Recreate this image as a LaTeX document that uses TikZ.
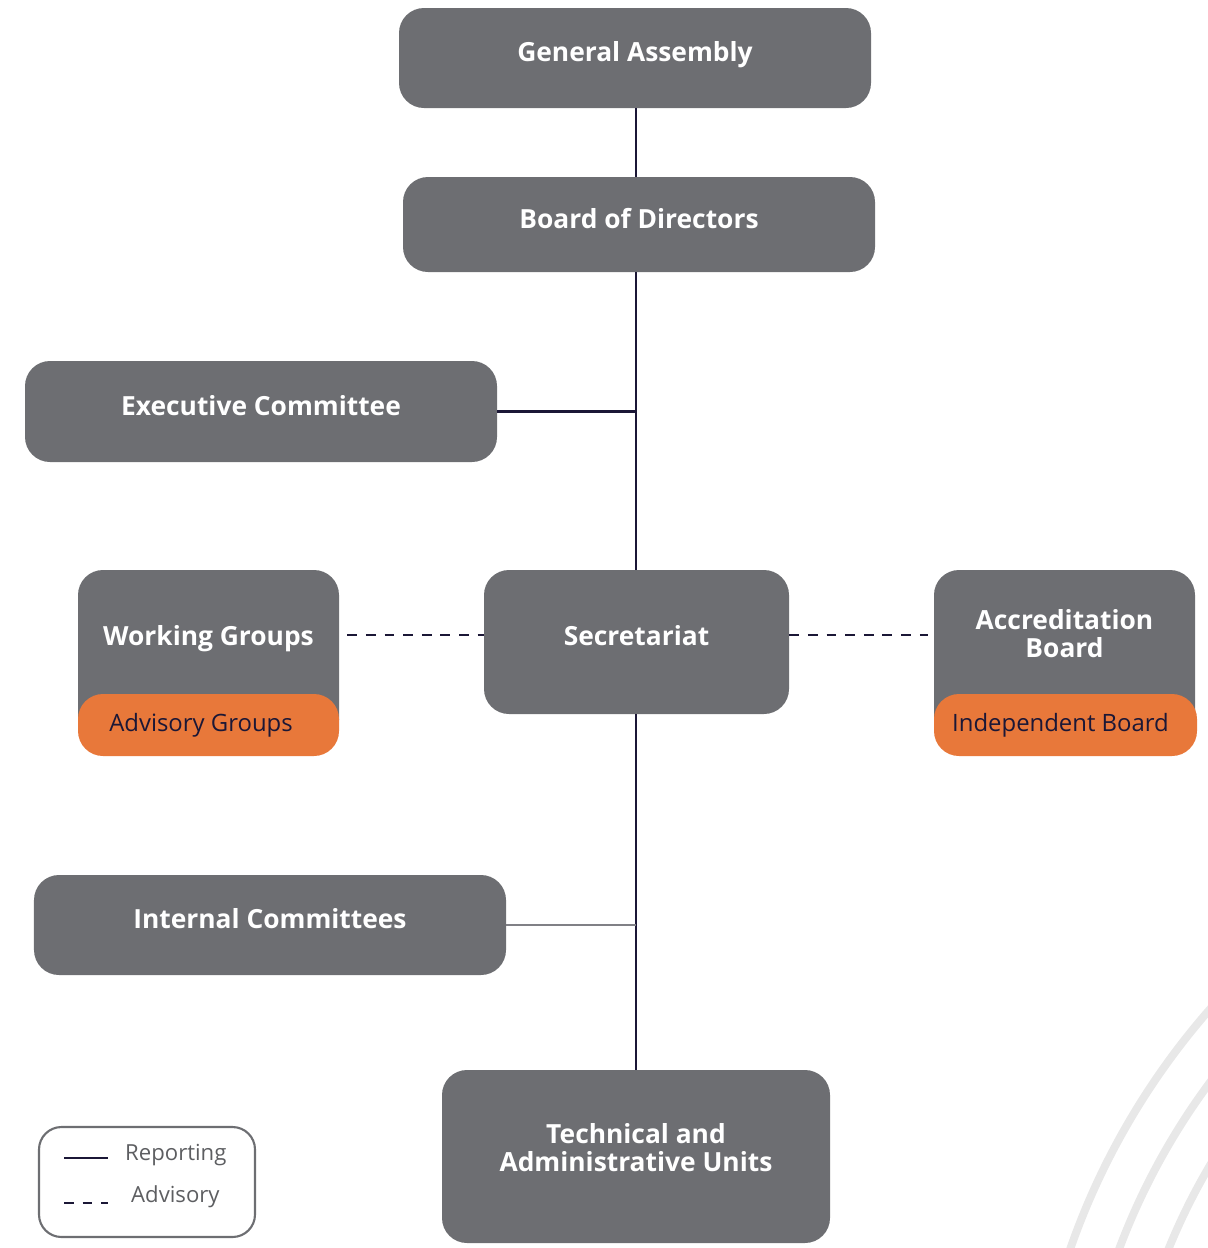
\documentclass[tikz,border=0pt]{standalone}
\usepackage{fontspec}
\setmainfont{Open Sans}
\usetikzlibrary{positioning,calc}
\definecolor{boxgray}{HTML}{6D6E72}
\definecolor{accent}{HTML}{E8783A}
\definecolor{navy}{HTML}{1B1736}
\definecolor{thin}{HTML}{808086}
\definecolor{arc}{HTML}{E8E8E8}
\tikzset{gbox/.style={fill=boxgray,rounded corners=0.5cm,align=center,text=white,inner sep=2pt,minimum width=9.44cm,minimum height=2cm,text height=0.75em,text depth=0.3em,font=\bfseries\fontsize{15}{15.5}\selectfont},obox/.style={fill=accent,rounded corners=0.5cm,text=navy,minimum height=1.24cm,font=\fontsize{13.6}{14}\selectfont},rep/.style={draw=navy,line width=1.4pt},adv/.style={draw=navy,line width=1.4pt,dash pattern=on 5.6pt off 5pt},legtext/.style={font=\fontsize{12.6}{13}\selectfont,text=boxgray!85!black}}

\begin{document}
\begin{tikzpicture}
\useasboundingbox (0,0) rectangle (24.16,-24.96);
\begin{scope}
\clip (0,0) rectangle (24.16,-24.96);
\foreach \r in {14.54,13.62,12.70}{\draw[arc,line width=4.5pt] (35.14,-29.76) circle (\r);}
\end{scope}
\node[gbox] (ga) at (12.70,-1.16) {General Assembly};
\node[gbox,minimum height=1.9cm] (bod) at (12.78,-4.49) {Board of Directors};
\node[gbox,minimum height=2.02cm] (ec) at (5.22,-8.23) {Executive Committee};
\node[gbox,minimum width=6.1cm,minimum height=2.88cm] (sec) at (12.73,-12.84) {Secretariat};
\node[gbox,minimum width=5.22cm,minimum height=3.5cm,label={[white,font=\bfseries\fontsize{15}{15.5}\selectfont,yshift=0.38cm]center:Working Groups}] (wg) at (4.17,-13.15) {};
\node[obox,minimum width=5.22cm] (ag) at (4.17,-14.50) {\hspace{-0.3cm}Advisory Groups};
\node[gbox,minimum width=5.22cm,minimum height=3.5cm,label={[white,align=center,font=\bfseries\fontsize{15}{15.5}\selectfont,yshift=0.48cm]center:Accreditation\\Board}] (ab) at (21.29,-13.15) {};
\node[obox,minimum width=5.26cm] (ib) at (21.31,-14.50) {\hspace{-0.2cm}Independent Board};
\node[gbox] (ic) at (5.40,-18.50) {Internal Committees};
\node[gbox,minimum width=7.76cm,minimum height=3.46cm,label={[white,align=center,font=\bfseries\fontsize{15}{15.5}\selectfont,yshift=0.18cm]center:Technical and\\Administrative Units}] (tau) at (12.72,-23.13) {};
\node[draw=boxgray,line width=1.2pt,rounded corners=0.45cm,minimum width=4.32cm,minimum height=2.2cm] (leg) at (2.94,-23.64) {};
\coordinate (r1) at (1.28,-23.16);
\coordinate (r2) at (2.16,-23.16);
\coordinate (d1) at (1.28,-24.06);
\coordinate (d2) at (2.16,-24.06);
\node[legtext,anchor=west] (lrep) at (2.38,-23.10) {Reporting};
\node[legtext,anchor=west] (ladv) at (2.50,-23.94) {Advisory};
\draw[rep] (r1)--(r2);
\draw[adv] (d1)--(d2);
\draw[rep] (ga.south -| tau.north)--(bod.north -| tau.north);
\draw[rep] (bod.south -| tau.north)--(sec.north -| tau.north);
\draw[rep] (sec.south -| tau.north)--(tau.north);
\draw[rep] (ec.east)--(ec.east -| tau.north);
\draw[draw=thin,line width=1.3pt] (ic.east)--(ic.east -| tau.north);
\draw[adv] ([xshift=0.16cm,yshift=0.14cm]wg.east |- sec.west)--([yshift=0.14cm]sec.west);
\draw[adv] ([yshift=0.14cm]sec.east)--([xshift=-0.12cm,yshift=0.14cm]ab.west |- sec.east);
\end{tikzpicture}
\end{document}
